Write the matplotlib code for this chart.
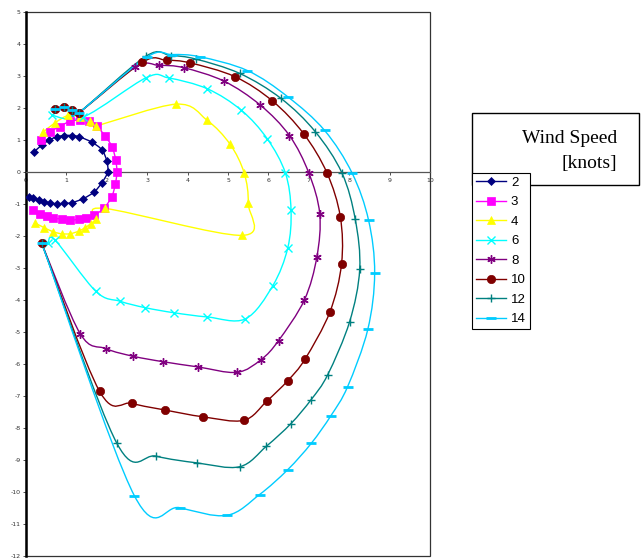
import numpy as np
import matplotlib.pyplot as plt
from matplotlib.path import Path
from matplotlib.patches import PathPatch, Rectangle
from matplotlib.lines import Line2D

plt.rcParams["axes.unicode_minus"] = False

# Wind speeds (knots) for each polar curve
speeds = ["2", "3", "4", "6", "8", "10", "12", "14"]

# shared cluster of points near the top left for the stronger winds
cluster_x = [0.72, 0.93, 1.13, 1.30]
cluster_y = [1.98, 2.03, 1.95, 1.85]

x2 = [0.21, 0.39, 0.58, 0.76, 0.94, 1.13, 1.32, 1.63, 1.88, 2.00, 2.02, 1.88, 1.69, 1.42,
      1.13, 0.94, 0.76, 0.60, 0.45, 0.31, 0.18, 0.08]
y2 = [0.64, 0.84, 1.00, 1.10, 1.14, 1.14, 1.10, 0.93, 0.69, 0.34, 0.00, -0.33, -0.62, -0.83,
      -0.96, -0.98, -0.99, -0.97, -0.93, -0.89, -0.82, -0.77]

x3 = [0.36, 0.60, 0.83, 1.10, 1.34, 1.57, 1.75, 1.95, 2.13, 2.22, 2.25, 2.21, 2.12, 1.93,
      1.69, 1.49, 1.30, 1.09, 0.88, 0.68, 0.51, 0.35, 0.18]
y3 = [1.00, 1.25, 1.42, 1.59, 1.62, 1.58, 1.43, 1.14, 0.79, 0.38, 0.00, -0.39, -0.78, -1.13,
      -1.35, -1.44, -1.48, -1.50, -1.47, -1.44, -1.39, -1.32, -1.19]

x4 = [0.43, 0.72, 1.05, 1.33, 1.59, 1.74, 3.72, 4.48, 5.05, 5.40, 5.50, 5.35, 1.96, 1.74,
      1.60, 1.46, 1.30, 1.09, 0.88, 0.68, 0.45, 0.22]
y4 = [1.25, 1.54, 1.77, 1.72, 1.59, 1.45, 2.12, 1.62, 0.87, -0.03, -0.98, -1.98, -1.14, -1.48,
      -1.62, -1.74, -1.85, -1.93, -1.93, -1.87, -1.74, -1.59]

x6 = [0.64, 1.42, 2.98, 3.53, 4.49, 5.33, 5.97, 6.42, 6.56, 6.48, 6.11, 5.43, 4.49, 3.67,
      2.95, 2.33, 1.73, 0.72, 0.55]
y6 = [1.77, 1.72, 2.95, 2.94, 2.60, 1.93, 1.04, -0.03, -1.19, -2.37, -3.55, -4.59, -4.53, -4.40,
      -4.24, -4.04, -3.73, -2.13, -2.23]

x8 = cluster_x + [2.70, 3.30, 3.90, 4.90, 5.80, 6.52, 7.00, 7.27, 7.20, 6.89, 6.25, 5.82, 5.22,
                  4.25, 3.40, 2.66, 1.98, 1.34, 0.39]
y8 = cluster_y + [3.28, 3.33, 3.26, 2.84, 2.09, 1.14, -0.03, -1.30, -2.65, -4.00, -5.27, -5.86,
                  -6.26, -6.09, -5.93, -5.76, -5.52, -5.05, -2.23]

x10 = cluster_x + [2.88, 3.48, 4.06, 5.17, 6.10, 6.87, 7.45, 7.78, 7.81, 7.52, 6.91, 6.48, 5.96,
                   5.39, 4.38, 3.45, 2.63, 1.82, 0.39]
y10 = cluster_y + [3.43, 3.49, 3.41, 2.98, 2.22, 1.20, -0.03, -1.40, -2.87, -4.38, -5.84, -6.52,
                   -7.16, -7.76, -7.65, -7.44, -7.23, -6.85, -2.23]

x12 = cluster_x + [2.97, 3.58, 4.20, 5.29, 6.31, 7.16, 7.82, 8.15, 8.26, 8.01, 7.47, 7.06, 6.56,
                   5.95, 5.29, 4.23, 3.22, 2.25, 0.39]
y12 = cluster_y + [3.62, 3.64, 3.53, 3.08, 2.30, 1.26, -0.03, -1.48, -3.04, -4.68, -6.33, -7.11,
                   -7.86, -8.57, -9.21, -9.09, -8.88, -8.48, -2.23]

x14 = cluster_x + [2.99, 3.61, 4.31, 5.48, 6.48, 7.39, 8.07, 8.48, 8.63, 8.46, 7.96, 7.55, 7.06,
                   6.48, 5.78, 4.97, 3.80, 2.68, 0.39]
y14 = cluster_y + [3.59, 3.67, 3.60, 3.17, 2.35, 1.30, -0.03, -1.51, -3.16, -4.92, -6.71, -7.61,
                   -8.48, -9.30, -10.08, -10.73, -10.49, -10.11, -2.23]

xs = [x2, x3, x4, x6, x8, x10, x12, x14]
ys = [y2, y3, y4, y6, y8, y10, y12, y14]

colors = ["#000080", "#FF00FF", "#FFFF00", "#00FFFF", "#800080", "#800000", "#008080", "#00CCFF"]
markers = ["D", "s", "^", "x", (6, 2, 0), "o", "+", "_"]
msizes = [4.5, 5.5, 6, 5.5, 6, 6, 6, 6.5]
mews = [0.5, 0.5, 0.5, 1.0, 1.0, 0.5, 1.0, 2.0]


def smooth_path(x, y, t=1.0 / 6):
    # Excel-style smoothed line: cubic bezier through the points
    pts = np.column_stack([x, y])
    n = len(pts)
    verts = [pts[0]]
    codes = [Path.MOVETO]
    for i in range(n - 1):
        p0 = pts[max(i - 1, 0)]
        p1 = pts[i]
        p2 = pts[i + 1]
        p3 = pts[min(i + 2, n - 1)]
        verts += [p1 + (p2 - p0) * t, p2 - (p3 - p1) * t, p2]
        codes += [Path.CURVE4] * 3
    return Path(verts, codes)


fig = plt.figure(figsize=(6.44, 5.59), dpi=100)
ax = fig.add_axes([26 / 644, 3 / 559, 404 / 644, 544 / 559])

handles = []
for x, y, c, m, ms, mew, lab in zip(xs, ys, colors, markers, msizes, mews, speeds):
    ax.add_patch(PathPatch(smooth_path(x, y), fill=False, edgecolor=c, lw=1.0, zorder=2))
    ax.plot(x, y, ls="none", marker=m, ms=ms, mew=mew, color=c, mec=c, zorder=3)
    handles.append(Line2D([], [], color=c, lw=1.0, marker=m, ms=ms, mew=mew, mec=c, label=lab))

ax.set_xlim(0, 10)
ax.set_ylim(-12, 5)
ax.set_xticks(range(0, 11))
ax.set_yticks(range(-12, 6))

# axes crossing at y=0, thick y axis on the left
ax.spines["bottom"].set_position(("data", 0))
ax.spines["bottom"].set_color("#555555")
ax.spines["bottom"].set_linewidth(0.9)
ax.spines["left"].set_color("black")
ax.spines["left"].set_linewidth(1.8)
ax.spines["top"].set_visible(False)
ax.spines["right"].set_visible(False)
ax.add_patch(Rectangle((0, 0), 1, 1, transform=ax.transAxes, fill=False,
                       ec="#333333", lw=0.9, clip_on=False, zorder=1))

ax.tick_params(axis="x", length=2, width=0.6, pad=2, labelsize=4.5, colors="#333333")
ax.tick_params(axis="y", length=2, width=0.6, pad=2, labelsize=4.5, colors="#333333")

# legend title box, partly covered by the legend itself
fig.add_artist(Rectangle((472 / 644, 1 - 185 / 559), 167 / 644, 72 / 559,
                         transform=fig.transFigure, facecolor="white", edgecolor="black",
                         lw=1.0, zorder=1))
fig.text(617 / 644, 1 - 143 / 559, "Wind Speed", ha="right", va="baseline",
         fontsize=14, family="Liberation Serif", zorder=2)
fig.text(617 / 644, 1 - 168 / 559, "[knots]", ha="right", va="baseline",
         fontsize=14, family="Liberation Serif", zorder=2)

leg = fig.legend(handles=handles, loc="upper left", bbox_to_anchor=(472 / 644, 1 - 172.7 / 559),
                 bbox_transform=fig.transFigure, borderaxespad=0, fancybox=False,
                 framealpha=1, edgecolor="black", handlelength=2.3, handletextpad=0.35,
                 labelspacing=0.55, borderpad=0.3,
                 prop={"family": "Liberation Sans", "size": 9.5})
leg.get_frame().set_linewidth(0.8)
leg.set_zorder(5)

plt.savefig("out.png", dpi=100)
